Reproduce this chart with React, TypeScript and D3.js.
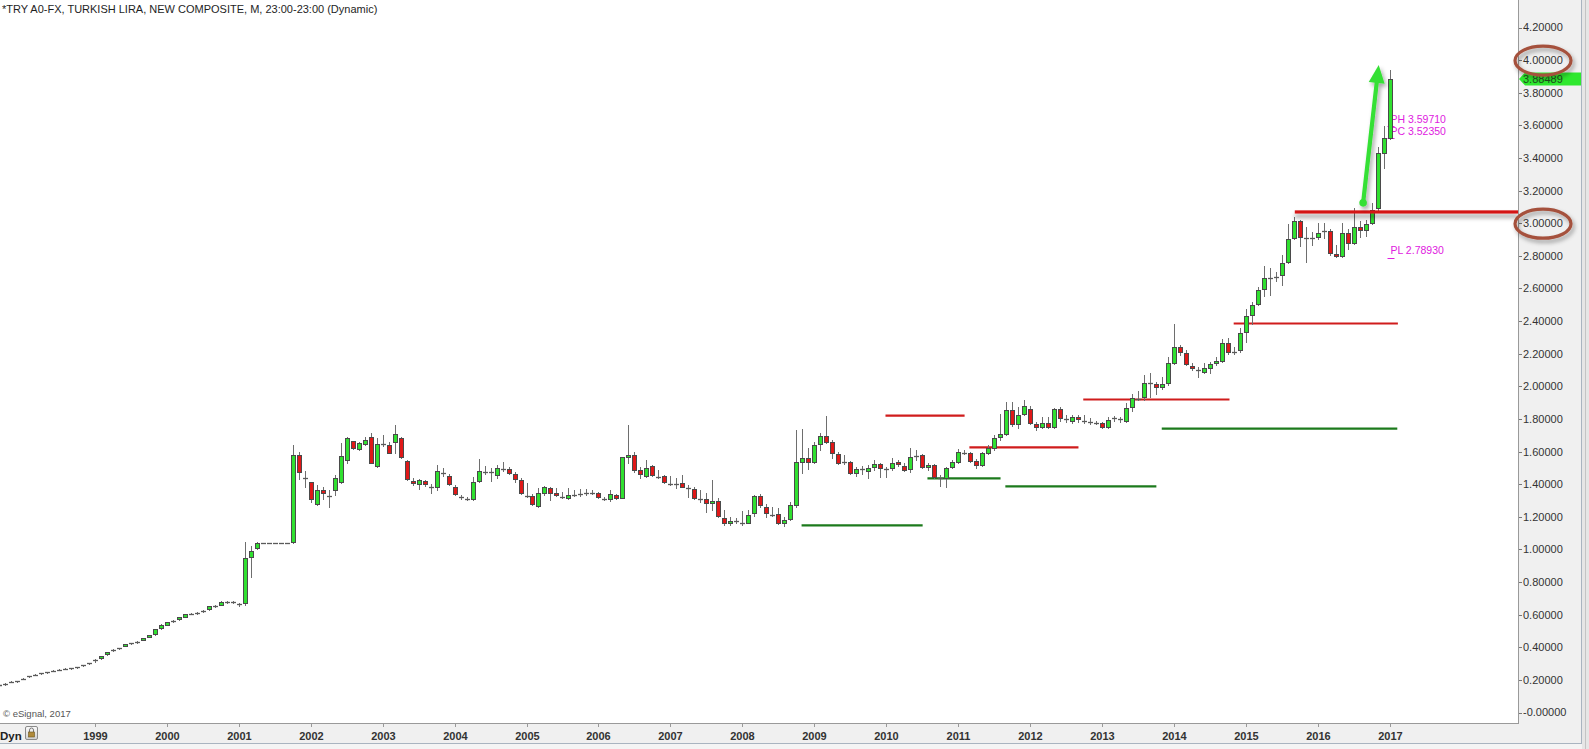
import React from "react";
import * as d3 from "d3";

// ---------- DATA ----------
const chartTitle = "*TRY A0-FX, TURKISH LIRA, NEW COMPOSITE, M, 23:00-23:00 (Dynamic)";
const firstYear = 1997;
const firstMonth = 9; // Sep 1997, monthly bars

const opens = [
  0.166, 0.173, 0.187, 0.192,
  0.205, 0.220, 0.230, 0.240, 0.247, 0.255, 0.261, 0.268, 0.270, 0.276, 0.288, 0.300,
  0.314, 0.332, 0.357, 0.381, 0.392, 0.408, 0.422, 0.430, 0.445, 0.462, 0.479, 0.516,
  0.537, 0.560, 0.572, 0.587, 0.604, 0.610, 0.621, 0.633, 0.650, 0.662, 0.676, 0.674,
  0.667, 0.671, 0.955, 1.010, 1.041, 1.041, 1.041, 1.041, 1.041, 1.045, 1.578, 1.442,
  1.411, 1.277, 1.364, 1.332, 1.362, 1.415, 1.548, 1.663, 1.616, 1.646, 1.691, 1.513,
  1.646, 1.640, 1.657, 1.681, 1.542, 1.421, 1.401, 1.421, 1.387, 1.381, 1.469, 1.450,
  1.385, 1.321, 1.311, 1.307, 1.419, 1.478, 1.475, 1.456, 1.495, 1.493, 1.460, 1.426,
  1.329, 1.327, 1.268, 1.344, 1.375, 1.344, 1.325, 1.313, 1.336, 1.340, 1.342, 1.346,
  1.344, 1.311, 1.309, 1.334, 1.317, 1.565, 1.579, 1.487, 1.452, 1.511, 1.448, 1.450,
  1.405, 1.405, 1.405, 1.380, 1.369, 1.309, 1.307, 1.283, 1.299, 1.195, 1.160, 1.178,
  1.166, 1.164, 1.221, 1.327, 1.262, 1.213, 1.215, 1.160, 1.185, 1.272, 1.538, 1.559,
  1.538, 1.644, 1.695, 1.660, 1.585, 1.536, 1.538, 1.470, 1.493, 1.483, 1.503, 1.524,
  1.493, 1.497, 1.538, 1.511, 1.491, 1.576, 1.579, 1.503, 1.517, 1.438, 1.436, 1.503,
  1.538, 1.595, 1.589, 1.544, 1.517, 1.593, 1.620, 1.687, 1.708, 1.855, 1.767, 1.830,
  1.859, 1.769, 1.749, 1.773, 1.752, 1.859, 1.800, 1.789, 1.810, 1.791, 1.785, 1.775,
  1.773, 1.752, 1.806, 1.800, 1.789, 1.875, 1.922, 1.932, 2.024, 2.014, 1.994, 2.018,
  2.145, 2.243, 2.202, 2.126, 2.102, 2.090, 2.114, 2.141, 2.157, 2.267, 2.214, 2.223,
  2.331, 2.437, 2.506, 2.595, 2.664, 2.674, 2.682, 2.764, 2.907, 3.015, 2.909, 2.909,
  2.913, 2.956, 2.954, 2.809, 2.799, 2.938, 2.877, 2.979, 2.958, 2.999, 3.091, 3.433,
  3.5235,
];

const highs = [
  0.172, 0.178, 0.192, 0.196,
  0.210, 0.225, 0.235, 0.245, 0.251, 0.259, 0.265, 0.272, 0.274, 0.280, 0.292, 0.305,
  0.326, 0.349, 0.374, 0.387, 0.397, 0.420, 0.428, 0.436, 0.458, 0.476, 0.512, 0.540,
  0.557, 0.567, 0.587, 0.606, 0.610, 0.616, 0.628, 0.653, 0.662, 0.682, 0.684, 0.681,
  0.672, 1.045, 1.021, 1.045, 1.041, 1.041, 1.041, 1.041, 1.041, 1.640, 1.600, 1.480,
  1.415, 1.395, 1.380, 1.364, 1.456, 1.650, 1.691, 1.667, 1.660, 1.691, 1.714, 1.681,
  1.701, 1.660, 1.763, 1.687, 1.548, 1.436, 1.430, 1.426, 1.401, 1.517, 1.497, 1.461,
  1.395, 1.334, 1.319, 1.446, 1.552, 1.511, 1.497, 1.517, 1.534, 1.503, 1.476, 1.436,
  1.409, 1.340, 1.375, 1.389, 1.385, 1.375, 1.354, 1.375, 1.364, 1.369, 1.370, 1.364,
  1.352, 1.323, 1.364, 1.340, 1.568, 1.763, 1.599, 1.503, 1.548, 1.517, 1.487, 1.456,
  1.450, 1.436, 1.456, 1.395, 1.381, 1.364, 1.344, 1.426, 1.313, 1.242, 1.201, 1.191,
  1.238, 1.242, 1.334, 1.340, 1.278, 1.258, 1.252, 1.201, 1.293, 1.732, 1.736, 1.620,
  1.660, 1.716, 1.818, 1.671, 1.599, 1.579, 1.544, 1.507, 1.511, 1.517, 1.548, 1.532,
  1.507, 1.559, 1.548, 1.528, 1.620, 1.609, 1.585, 1.532, 1.524, 1.456, 1.503, 1.548,
  1.614, 1.609, 1.599, 1.552, 1.599, 1.640, 1.701, 1.830, 1.906, 1.906, 1.871, 1.916,
  1.879, 1.783, 1.814, 1.814, 1.865, 1.871, 1.824, 1.824, 1.824, 1.824, 1.804, 1.789,
  1.783, 1.814, 1.818, 1.814, 1.896, 1.953, 1.973, 2.069, 2.083, 2.028, 2.055, 2.178,
  2.382, 2.253, 2.223, 2.145, 2.120, 2.145, 2.151, 2.182, 2.288, 2.294, 2.243, 2.356,
  2.472, 2.519, 2.611, 2.738, 2.723, 2.703, 2.805, 2.995, 3.036, 3.020, 2.975, 2.948,
  2.999, 2.999, 2.963, 2.866, 2.999, 2.963, 3.091, 3.015, 3.020, 3.126, 3.469, 3.5971,
  3.940,
];

const lows = [
  0.163, 0.171, 0.185, 0.190,
  0.203, 0.218, 0.228, 0.238, 0.244, 0.252, 0.258, 0.265, 0.267, 0.273, 0.285, 0.298,
  0.312, 0.330, 0.355, 0.379, 0.389, 0.405, 0.420, 0.427, 0.442, 0.460, 0.477, 0.514,
  0.535, 0.557, 0.570, 0.585, 0.601, 0.607, 0.618, 0.631, 0.648, 0.660, 0.672, 0.670,
  0.652, 0.660, 0.830, 1.005, 1.041, 1.041, 1.041, 1.041, 1.041, 1.040, 1.430, 1.380,
  1.293, 1.272, 1.307, 1.262, 1.334, 1.405, 1.532, 1.614, 1.611, 1.640, 1.530, 1.507,
  1.634, 1.589, 1.593, 1.559, 1.425, 1.395, 1.369, 1.389, 1.344, 1.364, 1.450, 1.395,
  1.334, 1.307, 1.303, 1.303, 1.415, 1.460, 1.421, 1.436, 1.483, 1.460, 1.415, 1.340,
  1.319, 1.272, 1.258, 1.334, 1.303, 1.327, 1.313, 1.307, 1.327, 1.327, 1.334, 1.340,
  1.313, 1.303, 1.299, 1.307, 1.313, 1.528, 1.474, 1.436, 1.442, 1.450, 1.436, 1.409,
  1.395, 1.375, 1.381, 1.323, 1.307, 1.293, 1.231, 1.242, 1.201, 1.150, 1.150, 1.160,
  1.150, 1.160, 1.205, 1.262, 1.201, 1.205, 1.156, 1.143, 1.180, 1.262, 1.467, 1.491,
  1.532, 1.609, 1.650, 1.559, 1.524, 1.524, 1.462, 1.450, 1.462, 1.436, 1.487, 1.446,
  1.442, 1.487, 1.511, 1.483, 1.476, 1.548, 1.497, 1.487, 1.436, 1.389, 1.385, 1.497,
  1.532, 1.585, 1.538, 1.497, 1.511, 1.585, 1.609, 1.671, 1.701, 1.757, 1.743, 1.824,
  1.769, 1.732, 1.743, 1.743, 1.746, 1.789, 1.783, 1.773, 1.783, 1.777, 1.769, 1.767,
  1.743, 1.743, 1.789, 1.783, 1.783, 1.850, 1.916, 1.916, 1.932, 1.953, 1.982, 2.008,
  2.137, 2.192, 2.131, 2.100, 2.059, 2.083, 2.080, 2.131, 2.151, 2.198, 2.198, 2.212,
  2.273, 2.382, 2.498, 2.554, 2.560, 2.648, 2.621, 2.758, 2.901, 2.860, 2.764, 2.866,
  2.901, 2.907, 2.805, 2.795, 2.791, 2.840, 2.872, 2.917, 2.921, 2.995, 3.071, 3.337,
  3.514,
];

const closes = [
  0.169, 0.176, 0.189, 0.194,
  0.208, 0.223, 0.233, 0.243, 0.249, 0.257, 0.263, 0.269, 0.272, 0.278, 0.290, 0.303,
  0.324, 0.347, 0.372, 0.384, 0.395, 0.418, 0.425, 0.433, 0.456, 0.474, 0.510, 0.538,
  0.555, 0.564, 0.585, 0.604, 0.607, 0.613, 0.625, 0.651, 0.657, 0.680, 0.679, 0.677,
  0.662, 0.947, 0.990, 1.040, 1.041, 1.041, 1.041, 1.041, 1.041, 1.578, 1.473, 1.438,
  1.309, 1.362, 1.344, 1.328, 1.436, 1.573, 1.681, 1.620, 1.652, 1.671, 1.532, 1.644,
  1.642, 1.593, 1.706, 1.565, 1.430, 1.405, 1.426, 1.401, 1.383, 1.481, 1.465, 1.399,
  1.340, 1.317, 1.307, 1.411, 1.481, 1.474, 1.471, 1.497, 1.491, 1.467, 1.430, 1.344,
  1.325, 1.277, 1.344, 1.381, 1.348, 1.332, 1.321, 1.334, 1.332, 1.336, 1.346, 1.350,
  1.319, 1.307, 1.338, 1.313, 1.565, 1.579, 1.487, 1.460, 1.497, 1.456, 1.444, 1.415,
  1.401, 1.401, 1.385, 1.376, 1.313, 1.305, 1.283, 1.299, 1.205, 1.160, 1.176, 1.174,
  1.162, 1.211, 1.327, 1.272, 1.221, 1.209, 1.160, 1.180, 1.272, 1.534, 1.559, 1.538,
  1.640, 1.695, 1.660, 1.593, 1.532, 1.532, 1.470, 1.493, 1.489, 1.501, 1.524, 1.497,
  1.489, 1.532, 1.524, 1.487, 1.565, 1.572, 1.503, 1.517, 1.442, 1.434, 1.497, 1.538,
  1.599, 1.591, 1.544, 1.517, 1.589, 1.620, 1.681, 1.708, 1.855, 1.769, 1.824, 1.879,
  1.773, 1.749, 1.773, 1.752, 1.859, 1.804, 1.796, 1.810, 1.798, 1.787, 1.781, 1.771,
  1.752, 1.793, 1.802, 1.796, 1.865, 1.926, 1.918, 2.018, 2.020, 1.994, 2.012, 2.141,
  2.243, 2.212, 2.137, 2.110, 2.098, 2.110, 2.135, 2.155, 2.267, 2.212, 2.210, 2.325,
  2.431, 2.498, 2.590, 2.662, 2.660, 2.670, 2.758, 2.901, 3.015, 2.913, 2.905, 2.905,
  2.942, 2.952, 2.815, 2.799, 2.938, 2.877, 2.979, 2.958, 2.995, 3.081, 3.429, 3.5235,
  3.88489,
];

const yearLabels = ["1999", "2000", "2001", "2002", "2003", "2004", "2005", "2006", "2007", "2008",
  "2009", "2010", "2011", "2012", "2013", "2014", "2015", "2016", "2017"];

const yTickValues = [0, 0.2, 0.4, 0.6, 0.8, 1.0, 1.2, 1.4, 1.6, 1.8, 2.0, 2.2, 2.4, 2.6, 2.8, 3.0, 3.2, 3.4, 3.6, 3.8, 4.0, 4.2];
const yTickLabels = ["-0.00000", "0.20000", "0.40000", "0.60000", "0.80000", "1.00000", "1.20000", "1.40000",
  "1.60000", "1.80000", "2.00000", "2.20000", "2.40000", "2.60000", "2.80000", "3.00000", "3.20000",
  "3.40000", "3.60000", "3.80000", "4.00000", "4.20000"];

const lastPrice = 3.88489;
const lastPriceLabel = "3.88489";

// month offsets are counted from Jan 1999
const resistanceFrom = [131.9, 145.9, 164.9, 190.0];
const resistanceTo = [145.1, 164.1, 189.3, 217.4];
const resistanceLevel = [1.82, 1.625, 1.919, 2.385];
const supportFrom = [117.9, 138.9, 151.9, 178.0];
const supportTo = [138.1, 151.1, 177.1, 217.3];
const supportLevel = [1.147, 1.435, 1.386, 1.741];
const breakoutFrom = 200.2;
const breakoutLevel = 3.069;

const pivotNames = ["PH 3.59710", "PC 3.52350", "PL 2.78930"];
const pivotValues = [3.5971, 3.5235, 2.7893];

const circledValues = [4.0, 3.0];
const arrowStart = { m: 211.6, v: 3.125 };
const arrowEnd = { m: 214.2, v: 3.97 };

// ---------- CHART ----------
const FONT = "'Liberation Sans', Arial, sans-serif";

export default function App() {
  const W = 1589, H = 749;
  const plotR = 1518, plotB = 723;
  const x = d3.scaleLinear().domain([0, 216]).range([95, 1389.5]);
  const y = d3.scaleLinear().domain([0, 4.2]).range([712.5, 27.5]);
  const startOffset = (firstYear - 1999) * 12 + (firstMonth - 1);

  const candles = opens.map((o, i) => ({
    m: startOffset + i, o, h: highs[i], l: lows[i], c: closes[i],
  }));

  const green = "#30e030";
  const red = "#e01818";

  const candleEls = candles.map((d, i) => {
    const px = Math.round(x(d.m));
    const yTop = y(Math.max(d.o, d.c));
    const yBot = y(Math.min(d.o, d.c));
    const t = Math.round(yTop) + 0.5;
    const b = Math.round(yBot) + 0.5;
    const wick = (
      <line key="w" x1={px + 0.5} x2={px + 0.5} y1={Math.round(y(d.h))} y2={Math.round(y(d.l)) + 1}
        stroke="#6e6e6e" strokeWidth={1} />
    );
    let body;
    if (b - t < 1.5) {
      const yc = Math.round((yTop + yBot) / 2) + 0.5;
      body = <line key="b" x1={px - 2} x2={px + 3} y1={yc} y2={yc} stroke="#5a5a5a" strokeWidth={1.3} />;
    } else {
      body = <rect key="b" x={px - 1.5} y={t} width={4} height={b - t}
        fill={d.c >= d.o ? green : red} stroke="#4a4a4a" strokeWidth={1} />;
    }
    return <g key={i}>{wick}{body}</g>;
  });

  // arrow geometry
  const ax0 = x(arrowStart.m), ay0 = y(arrowStart.v);
  const ax1 = x(arrowEnd.m), ay1 = y(arrowEnd.v);
  const len = Math.hypot(ax1 - ax0, ay1 - ay0);
  const ux = (ax1 - ax0) / len, uy = (ay1 - ay0) / len;
  const headL = 18, headW = 8;
  const bx = ax1 - ux * headL, by = ay1 - uy * headL;
  const headPts = [
    [ax1, ay1],
    [bx - uy * headW, by + ux * headW],
    [bx + uy * headW, by - ux * headW],
  ].map((p) => p.join(",")).join(" ");

  const yLast = y(lastPrice);
  const bx0 = x(breakoutFrom);
  const by0 = y(breakoutLevel);

  return (
    <svg width={W} height={H} style={{ position: "absolute", left: 0, top: 0, display: "block" }}
      fontFamily={FONT}>
      <defs>
        <clipPath id="plotClip"><rect x={0} y={0} width={plotR} height={plotB} /></clipPath>
        <filter id="shadow" x="-20%" y="-50%" width="140%" height="250%">
          <feDropShadow dx={2} dy={3} stdDeviation={2} floodColor="#000" floodOpacity={0.35} />
        </filter>
        <filter id="shadowLine" filterUnits="userSpaceOnUse" x={bx0 - 10} y={by0 - 10} width={plotR - bx0 + 20} height={30}>
          <feDropShadow dx={0} dy={4} stdDeviation={2.2} floodColor="#000" floodOpacity={0.4} />
        </filter>
        <linearGradient id="btn" x1="0" y1="0" x2="0" y2="1">
          <stop offset="0" stopColor="#fbfbfb" />
          <stop offset="1" stopColor="#cfcfcf" />
        </linearGradient>
      </defs>

      {/* backgrounds */}
      <rect x={0} y={0} width={W} height={H} fill="#f0f0f0" />
      <rect x={0} y={0} width={plotR} height={plotB} fill="#ffffff" />
      <rect x={1582} y={0} width={7} height={H} fill="#e6e6e6" />
      <rect x={0} y={744} width={1582} height={5} fill="#f4f4f4" />

      {/* title */}
      <text x={2} y={13} fontSize={11} fill="#1e1e1e">{chartTitle}</text>
      <text x={3} y={717} fontSize={9.5} fill="#555">© eSignal, 2017</text>

      <g clipPath="url(#plotClip)">
        {/* support / resistance lines */}
        {supportLevel.map((v, i) => (
          <line key={"s" + i} x1={x(supportFrom[i])} x2={x(supportTo[i])} y1={y(v)} y2={y(v)}
            stroke="#1c7a1c" strokeWidth={2.2} />
        ))}
        {resistanceLevel.map((v, i) => (
          <line key={"r" + i} x1={x(resistanceFrom[i])} x2={x(resistanceTo[i])} y1={y(v)} y2={y(v)}
            stroke="#d01c1c" strokeWidth={2.2} />
        ))}

        {/* pivot labels */}
        {pivotValues.map((v, i) => (
          <g key={"p" + i}>
            <line x1={x(216) - 2} x2={x(216) + 5} y1={Math.round(y(v)) + 0.5} y2={Math.round(y(v)) + 0.5}
              stroke="#e020e0" strokeWidth={1} />
            <text x={x(216) + 1} y={i === 2 ? y(v) - 4 : y(v) - 3} fontSize={10.5}
              fill="#e020e0">{pivotNames[i]}</text>
          </g>
        ))}

        {candleEls}

        {/* breakout line */}
        <rect x={bx0} y={by0 - 1.6} width={plotR - bx0} height={3.2}
          fill="#d41818" filter="url(#shadowLine)" />

        {/* green arrow */}
        <g filter="url(#shadow)">
          <line x1={ax0} y1={ay0} x2={bx + ux * 2} y2={by + uy * 2} stroke="#35e035" strokeWidth={4.2}
            strokeLinecap="round" />
          <circle cx={ax0} cy={ay0} r={3.8} fill="#35e035" />
          <polygon points={headPts} fill="#35e035" />
        </g>
      </g>

      {/* plot frame */}
      <line x1={plotR + 0.5} x2={plotR + 0.5} y1={0} y2={plotB + 1} stroke="#9a9a9a" />
      <line x1={0} x2={plotR + 1} y1={plotB + 0.5} y2={plotB + 0.5} stroke="#9a9a9a" />
      <line x1={0} x2={1582} y1={743.5} y2={743.5} stroke="#a9b4c0" />
      <line x1={1581.5} x2={1581.5} y1={0} y2={744} stroke="#a9b4c0" />
      <line x1={1585.5} x2={1585.5} y1={0} y2={H} stroke="#c4c4c4" />

      {/* y axis */}
      {yTickValues.map((v, i) => (
        <g key={"yt" + i}>
          <line x1={plotR + 1} x2={plotR + 4} y1={Math.round(y(v)) + 0.5} y2={Math.round(y(v)) + 0.5}
            stroke="#777" />
          <text x={1523} y={y(v)} dy="0.36em" fontSize={11} fill="#333">{yTickLabels[i]}</text>
        </g>
      ))}

      {/* last price tag */}
      <polygon
        points={`${plotR + 1},${yLast} ${plotR + 7},${yLast - 6.5} 1581,${yLast - 6.5} 1581,${yLast + 6.5} ${plotR + 7},${yLast + 6.5}`}
        fill="#2ee82e" />
      <text x={1523} y={yLast} dy="0.36em" fontSize={11} fill="#1f4f1f">{lastPriceLabel}</text>

      {/* circled levels */}
      {circledValues.map((v, i) => (
        <ellipse key={"o" + i} cx={1543} cy={y(v) + 0.5} rx={28} ry={14.5} fill="none"
          stroke="#a5513c" strokeWidth={3.2} filter="url(#shadow)" />
      ))}

      {/* x axis */}
      {yearLabels.map((lab, i) => {
        const xx = Math.round(x(i * 12)) + 0.5;
        return (
          <g key={"x" + lab}>
            <line x1={xx} x2={xx} y1={724} y2={727} stroke="#999" />
            <text x={xx} y={740} textAnchor="middle" fontSize={11} fontWeight="bold" fill="#333">{lab}</text>
          </g>
        );
      })}
      <text x={0} y={740} fontSize={11.5} fontWeight="bold" fill="#222">Dyn</text>
      <rect x={25.5} y={726.5} width={12} height={13} rx={1.5} fill="url(#btn)" stroke="#8a8a8a" />
      <path d="M29.5,732 v-2 a2,2 0 0 1 4,0 v2" fill="none" stroke="#777" strokeWidth={1} />
      <rect x={28.5} y={732} width={6} height={5} fill="#b08a3a" stroke="#6a5520" strokeWidth={0.6} />
    </svg>
  );
}
